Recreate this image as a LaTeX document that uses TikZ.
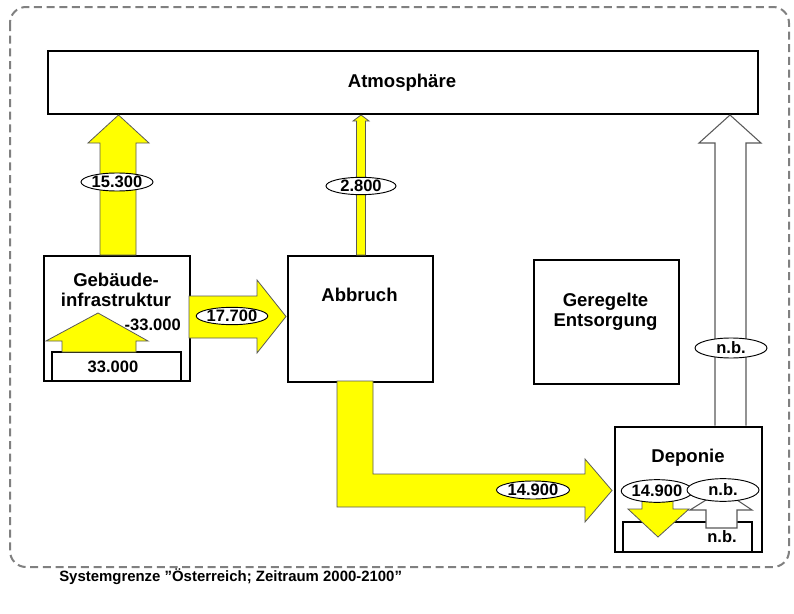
\documentclass[tikz,border=0pt]{standalone}
\usepackage{fontspec}
\setmainfont{Liberation Sans}
\usetikzlibrary{shapes.geometric}
\definecolor{flowyellow}{RGB}{255,255,0}
\definecolor{bordergray}{RGB}{128,128,128}
\begin{document}
\begin{tikzpicture}[x=0.75pt,y=-0.75pt,
  procbox/.style={draw=black,line width=1.3pt,fill=white},
  innerbox/.style={draw=black,line width=1pt},
  mainlabel/.style={font=\fontsize{13.9}{15}\selectfont\bfseries,align=center,inner sep=0pt},
  numlabel/.style={font=\fontsize{12.4}{14}\selectfont\bfseries,inner sep=0pt},
  yarrow/.style={fill=flowyellow,draw=black!65,line width=0.6pt,line join=miter},
  warrow/.style={fill=white,draw=black!65,line width=0.8pt,line join=miter},
  valell/.style={ellipse,draw=black,line width=0.7pt,fill=white,inner sep=0pt,
     font=\fontsize{12.4}{14}\selectfont\bfseries},
]
\useasboundingbox (0,0) rectangle (794,614);
% system boundary
\draw[bordergray,line width=1.5pt,dash pattern=on 6pt off 3.5pt,rounded corners=12pt]
  (10,7) rectangle (789,567);
\node[anchor=west,font=\fontsize{11.2}{13}\selectfont\bfseries,inner sep=0pt] (cap) at (59,577)
  {Systemgrenze \symbol{34}Österreich; Zeitraum 2000-2100\symbol{34}};

% boxes
\node[procbox,minimum width=532.5pt,minimum height=47.25pt,anchor=north west] (atm) at (47,50) {};
\node[mainlabel] (atmtxt) at (402,83) {Atmosphäre};
\node[procbox,minimum width=109.5pt,minimum height=93.75pt,anchor=north west] (geb) at (43,255) {};
\node[procbox,minimum width=108.75pt,minimum height=94.5pt,anchor=north west] (abb) at (287,255) {};
\node[procbox,minimum width=108.75pt,minimum height=93pt,anchor=north west] (ger) at (533,259) {};
\node[procbox,minimum width=110.25pt,minimum height=93.75pt,anchor=north west] (dep) at (614,426) {};

\node[mainlabel] (gebtxt) at (116,290) {Gebäude-\\infrastruktur};
\node[mainlabel] (abbtxt) at (359.5,295) {Abbruch};
\node[mainlabel] (gertxt) at (605.5,312) {Geregelte\\Entsorgung};
\node[mainlabel] (deptxt) at (688,458) {Deponie};

% inner stock boxes
\draw[innerbox] (52,380) -- (52,352) -- (181,352) -- (181,380);
\draw[innerbox] (623,551) -- (623,522) -- (752,522) -- (752,551);

% flows to atmosphere
\draw[yarrow] (100,255) -- (100,143) -- (88,143) -- (118.5,115) -- (149,143) -- (136,143) -- (136,255) -- cycle;
\draw[yarrow] (356.5,255) -- (356.5,121) -- (353,121) -- (361,115) -- (369,121) -- (365.5,121) -- (365.5,255) -- cycle;
\draw[warrow] (715,425.5) -- (715,143) -- (699,143) -- (730,115) -- (761,143) -- (746,143) -- (746,425.5);

% Gebaeude -> Abbruch
\draw[yarrow] (189,296) -- (257,296) -- (257,280) -- (286,316.5) -- (257,353) -- (257,338) -- (189,338) -- cycle;
% Abbruch -> Deponie
\draw[yarrow] (337,381) -- (373,381) -- (373,474) -- (585,474) -- (585,459) -- (612,490.5) -- (585,522) -- (585,507) -- (337,507) -- cycle;

% stock change Gebaeude
\draw[yarrow] (62,352) -- (62,341) -- (46,341) -- (98,313) -- (148,341) -- (136,341) -- (136,352) -- cycle;
\node[numlabel] (geb33) at (113,367) {33.000};
\node[numlabel,anchor=east] (gebm33) at (181,325) {-33.000};

% stock change Deponie
\draw[yarrow] (642,495) -- (642,509) -- (628,509) -- (658,537) -- (689,509) -- (673,509) -- (673,495) -- cycle;
\draw[warrow] (706,528) -- (706,510) -- (690,510) -- (722,490) -- (752,510) -- (737,510) -- (737,528) -- cycle;
\node[numlabel] (depnb) at (722,537) {n.b.};

% value labels
\node[valell,minimum width=54pt,minimum height=13.5pt] (v153) at (117,182) {15.300};
\node[valell,minimum width=52.5pt,minimum height=13pt] (v28) at (361,186) {2.800};
\node[valell,minimum width=54pt,minimum height=15pt] (vnb) at (731,348) {n.b.};
\node[valell,minimum width=53.25pt,minimum height=13pt] (v177) at (232,316) {17.700};
\node[valell,minimum width=54.75pt,minimum height=13.5pt] (v149) at (533,490) {14.900};
\node[valell,minimum width=51.75pt,minimum height=17pt] (vd149) at (657,491) {14.900};
\node[valell,minimum width=54pt,minimum height=17pt] (vdnb) at (723,490) {n.b.};
\end{tikzpicture}
\end{document}
